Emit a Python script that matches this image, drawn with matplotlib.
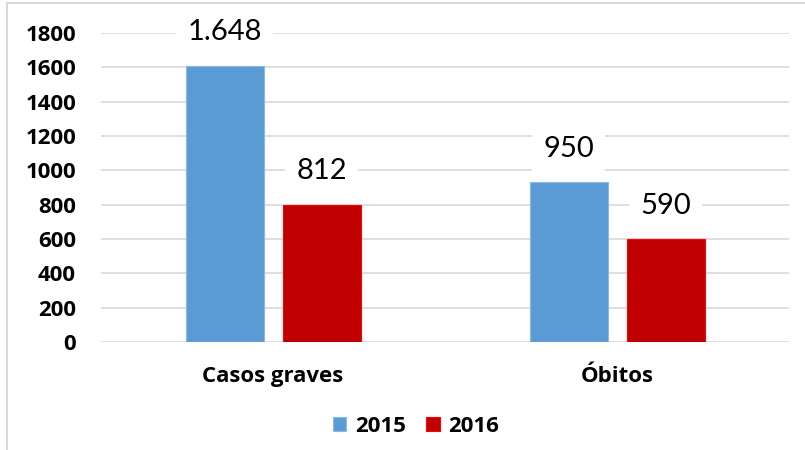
import matplotlib.pyplot as plt
from matplotlib.patches import Rectangle
import numpy as np

plt.rcParams['font.family'] = ['Lato', 'DejaVu Sans']
BOLD = ['Open Sans', 'DejaVu Sans']

categories = ['Casos graves', 'Óbitos']
years = ['2015', '2016']
values_2015 = [1610, 932]
values_2016 = [800, 600]
labels_2015 = ['1.648', '950']
labels_2016 = ['812', '590']
yticks = [0, 200, 400, 600, 800, 1000, 1200, 1400, 1600, 1800]

fig = plt.figure(figsize=(8.05, 4.5), dpi=100)
ax = fig.add_axes([0.1255, 0.24, 0.855, 0.6867])

# outer chart border (light grey)
fig.patches.append(Rectangle((0.0087, -0.1), 1.2, 1.0944, transform=fig.transFigure,
                             fill=False, edgecolor='#d9d9d9', lw=1.5))

x = np.arange(len(categories))
w = 0.227
off = 0.141
b1 = ax.bar(x - off, values_2015, w, color='#5B9BD5', edgecolor='#8db8e3', lw=0.8,
            label=years[0], zorder=2)
b2 = ax.bar(x + off, values_2016, w, color='#C00000', edgecolor='#ff0000', lw=0.8,
            label=years[1], zorder=2)

for bars, labs in [(b1, labels_2015), (b2, labels_2016)]:
    for bar, lab in zip(bars, labs):
        ax.text(bar.get_x() + bar.get_width() / 2, bar.get_height() + 195, lab,
                ha='center', va='center', fontsize=21, color='black', zorder=3,
                clip_on=False,
                bbox=dict(facecolor='white', edgecolor='none', pad=8))

ax.set_xlim(-0.5, 1.5)
ax.set_ylim(0, 1800)
ax.set_yticks(yticks)
ax.set_xticks(x)
ax.set_xticklabels(categories, fontsize=16, fontweight='bold', family=BOLD)
for t in ax.get_yticklabels():
    t.set_fontweight('bold')
    t.set_fontsize(16)
    t.set_family(BOLD)
ax.tick_params(axis='both', length=0)
ax.tick_params(axis='y', pad=18)
ax.tick_params(axis='x', pad=17)
ax.grid(axis='y', color='#d9d9d9', lw=1.2, zorder=0)
for s in ax.spines.values():
    s.set_visible(False)

ax.legend(loc='upper center', bbox_to_anchor=(0.458, -0.175), ncol=2, frameon=False,
          prop={'weight': 'bold', 'size': 16, 'family': BOLD}, handlelength=0.6,
          handleheight=0.6, columnspacing=0.9, handletextpad=0.4)

fig.savefig('out.png', dpi=100)
